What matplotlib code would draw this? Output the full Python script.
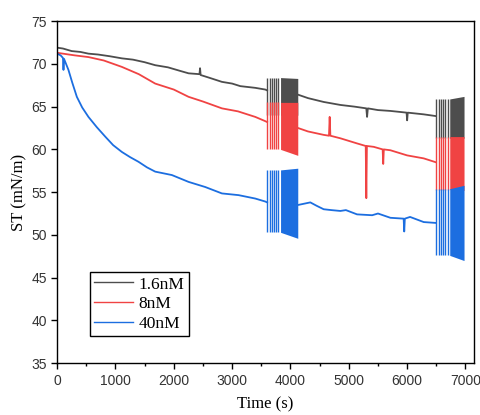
import matplotlib
matplotlib.use('Agg')
import matplotlib.pyplot as plt
from matplotlib.ticker import MultipleLocator

# colours of the three concentrations
col_gray = '#4d4d4d'
col_red = '#f04343'
col_blue = '#1c6ee0'

labels = ['1.6nM', '8nM', '40nM']

# smooth parts before the first oscillation burst
t_gray_a = [0, 100, 250, 400, 537, 700, 900, 1110, 1300, 1500, 1681, 1900, 2100, 2253,
            2440, 2450, 2460, 2600, 2825, 3000, 3140, 3397, 3569, 3600]
gray_a = [71.9, 71.8, 71.5, 71.4, 71.2, 71.1, 70.9, 70.65, 70.5, 70.2, 69.85, 69.6, 69.2, 68.9,
          68.8, 69.5, 68.7, 68.4, 67.9, 67.7, 67.4, 67.2, 67.0, 66.9]

t_red_a = [0, 100, 300, 537, 800, 1110, 1400, 1681, 2000, 2253, 2500, 2825, 3100, 3397, 3569, 3600]
red_a = [71.3, 71.2, 71.0, 70.8, 70.4, 69.65, 68.8, 67.7, 67.0, 66.15, 65.6, 64.8, 64.45, 63.8, 63.3, 63.2]

t_blue_a = [0, 60, 100, 109, 118, 194, 260, 338, 430, 537, 680, 824, 960, 1110, 1250, 1395,
            1540, 1681, 1967, 2253, 2539, 2825, 3111, 3397, 3569, 3600]
blue_a = [71.2, 71.0, 70.7, 69.3, 70.6, 69.3, 67.8, 66.15, 64.9, 63.8, 62.6, 61.5, 60.5, 59.7, 59.1, 58.55,
          57.9, 57.4, 57.0, 56.2, 55.6, 54.85, 54.65, 54.25, 53.9, 53.8]

# smooth parts between the two bursts
t_gray_b = [4130, 4300, 4569, 4855, 5100, 5300, 5313, 5326, 5500, 5713, 5990, 6000, 6010, 6284, 6490]
gray_b = [66.4, 66.0, 65.55, 65.2, 65.0, 64.8, 63.8, 64.8, 64.6, 64.5, 64.3, 63.4, 64.3, 64.1, 63.9]

t_red_b = [4130, 4300, 4569, 4660, 4672, 4684, 4855, 5141, 5290, 5300, 5310, 5427, 5580, 5590, 5600,
           5713, 5999, 6284, 6490]
red_b = [62.5, 62.1, 61.7, 61.6, 63.8, 61.6, 61.3, 60.7, 60.4, 54.3, 60.4, 60.3, 60.0, 58.3, 60.0,
         59.9, 59.3, 58.95, 58.5]

t_blue_b = [4130, 4340, 4450, 4569, 4700, 4855, 4950, 5141, 5400, 5500, 5713, 5940, 5950, 5960, 6050, 6284, 6490]
blue_b = [53.5, 53.8, 53.4, 53.0, 52.9, 52.8, 52.9, 52.4, 52.3, 52.5, 52.0, 51.9, 50.4, 51.9, 52.1, 51.5, 51.4]

# oscillation bursts: sparse spikes, then a dense block
spikes1 = [3603, 3643, 3677, 3718, 3757, 3792]
block1 = [3830, 4125]
spikes2 = [6502, 6542, 6583, 6618, 6657, 6697]
block2 = [6730, 6975]

gray_hi1, gray_lo1 = [68.4, 68.3], [64.0, 64.0]
red_hi1, red_lo1 = [65.5, 65.5], [60.0, 59.3]
blue_hi1, blue_lo1 = [57.6, 57.8], [50.3, 49.6]

gray_hi2, gray_lo2 = [65.9, 66.2], [61.3, 61.3]
red_hi2, red_lo2 = [61.5, 61.5], [55.3, 55.2]
blue_hi2, blue_lo2 = [55.4, 55.8], [47.6, 47.0]

plt.rcParams['font.family'] = ['Liberation Sans', 'DejaVu Sans']
fig = plt.figure(figsize=(4.8, 4.15), dpi=100)
ax = fig.add_axes([0.119, 0.125, 0.869, 0.824])

series = [
    (t_gray_a, gray_a, t_gray_b, gray_b, gray_hi1, gray_lo1, gray_hi2, gray_lo2, col_gray),
    (t_red_a, red_a, t_red_b, red_b, red_hi1, red_lo1, red_hi2, red_lo2, col_red),
    (t_blue_a, blue_a, t_blue_b, blue_b, blue_hi1, blue_lo1, blue_hi2, blue_lo2, col_blue),
]

for lab, (ta, va, tb, vb, hi1, lo1, hi2, lo2, c) in zip(labels, series):
    ax.plot(ta, va, color=c, lw=1.3, label=lab)
    ax.plot(tb, vb, color=c, lw=1.3)
    ax.vlines(spikes1, lo1[0], hi1[0], color=c, lw=1.0)
    ax.fill_between(block1, lo1, hi1, color=c, lw=0)
    ax.vlines(spikes2, lo2[0], hi2[0], color=c, lw=1.0)
    ax.fill_between(block2, lo2, hi2, color=c, lw=0)

ax.set_xlim(0, 7150)
ax.set_ylim(35, 75)
ax.xaxis.set_major_locator(MultipleLocator(1000))
ax.xaxis.set_minor_locator(MultipleLocator(500))
ax.yaxis.set_major_locator(MultipleLocator(5))
ax.tick_params(axis='both', which='major', direction='out', length=4, width=1,
               labelsize=10, labelcolor='#333333')
ax.tick_params(axis='x', which='major', pad=4)
ax.tick_params(axis='x', which='minor', direction='out', length=2.5, width=1)

for s in ax.spines.values():
    s.set_linewidth(1.0)

ax.set_xlabel('Time (s)', fontsize=12, family='Liberation Serif', labelpad=6)
ax.set_ylabel('ST (mN/m)', fontsize=12, family='Liberation Serif', labelpad=3)

leg = ax.legend(loc='lower left', bbox_to_anchor=(0.079, 0.079), fancybox=False,
                edgecolor='black', framealpha=1, handlelength=2.2, borderpad=0.25,
                labelspacing=0.2, handletextpad=0.35, borderaxespad=0,
                prop={'family': 'Liberation Serif', 'size': 12.5})
leg.get_frame().set_linewidth(1.0)
for h in leg.get_lines():
    h.set_linewidth(1.0)

fig.savefig('out.png', dpi=100)
